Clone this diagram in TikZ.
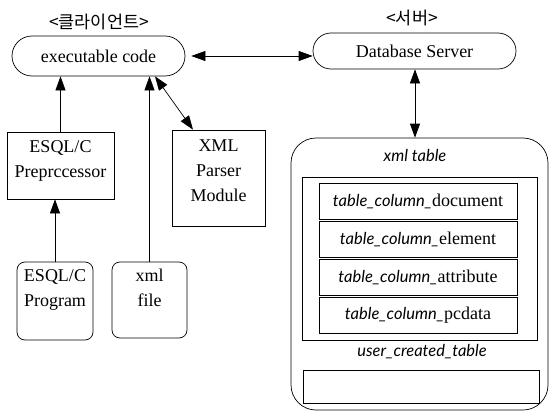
\documentclass[tikz,border=0pt]{standalone}
\usepackage{fontspec}
\setmainfont{Liberation Serif}
\newfontfamily\kor{Noto Sans CJK KR}
\newfontfamily\tabit{Lato}
\usetikzlibrary{shapes.misc,arrows.meta}

\begin{document}
\begin{tikzpicture}[x=1pt,y=-1pt,line width=0.7pt,
  font=\fontsize{18}{25}\selectfont,
  pill/.style={draw,rounded rectangle,inner sep=0pt},
  box/.style={draw,align=center,inner sep=0pt},
  rowbox/.style={draw,minimum width=198pt,minimum height=36pt,inner sep=0pt},
  arr/.style={-{Triangle[length=14pt,width=10pt]}},
  darr/.style={{Triangle[length=14pt,width=10pt]}-{Triangle[length=14pt,width=10pt]}}]
  \useasboundingbox (0,0) rectangle (551,412);

  \node (client) at (99,22)  {\kor\fontsize{17.5}{22}\selectfont <클라이언트>};
  \node (server) at (412,18) {\kor\fontsize{17.5}{22}\selectfont <서버>};

  \node[pill,minimum width=173pt,minimum height=40pt] (exec) at (98.5,56) {executable code};
  \node[pill,minimum width=203pt,minimum height=36pt] (db) at (414.5,51) {Database Server};

  \node[box,minimum width=107pt,minimum height=67pt] (pre) at (60.5,165.5) {\\[-22pt]ESQL/C\\Preprccessor};
  \node[box,minimum width=93pt,minimum height=96pt] (xmlp) at (218.5,178) {XML\\Parser\\Module\\[-11pt]\mbox{}};
  \node[box,rounded corners=8pt,minimum width=76pt,minimum height=78pt] (prog) at (55,301) {ESQL/C\\Program\\\mbox{}};
  \node[box,rounded corners=8pt,minimum width=75pt,minimum height=76pt] (xfile) at (149.5,300) {xml\\file\\\mbox{}};

  % server side tables
  \node[draw,rounded corners=25pt,minimum width=257pt,minimum height=272pt] (xtab) at (419.5,274) {};
  \node (xtabname) at (415,155) {\tabit\itshape\fontsize{16.5}{20}\selectfont xml table};
  \node[draw,minimum width=235pt,minimum height=163pt] (utab) at (419.5,258.5) {};
  \foreach \y/\n/\t in {201/doc/document, 239/elem/element, 277/attr/attribute, 315/pc/pcdata} {
    \node[rowbox] (\n) at (418,\y) {{\tabit\itshape\fontsize{16.5}{20}\selectfont table\_column\_}\t};
  }
  \node (utabname) at (422,352) {\tabit\itshape\fontsize{16.5}{20}\selectfont user\_created\_table};
  \node[draw,minimum width=236pt,minimum height=33pt] (empty) at (421,386.5) {};

  % connectors
  \draw[darr,shorten <=6pt] (exec.east) -- (exec.east -| db.west);
  \draw[darr] (db.south -| xtabname) -- (xtab.north -| xtabname);
  \draw[arr] (pre.north) -- (pre.north |- exec.south);
  \draw[arr] (xfile.north) -- (xfile.north |- exec.south);
  \draw[darr] ([xshift=56.5pt]exec.south) -- ([xshift=-25.5pt]xmlp.north);
  \draw[arr] (prog.north) -- (prog.north |- pre.south);
\end{tikzpicture}
\end{document}
